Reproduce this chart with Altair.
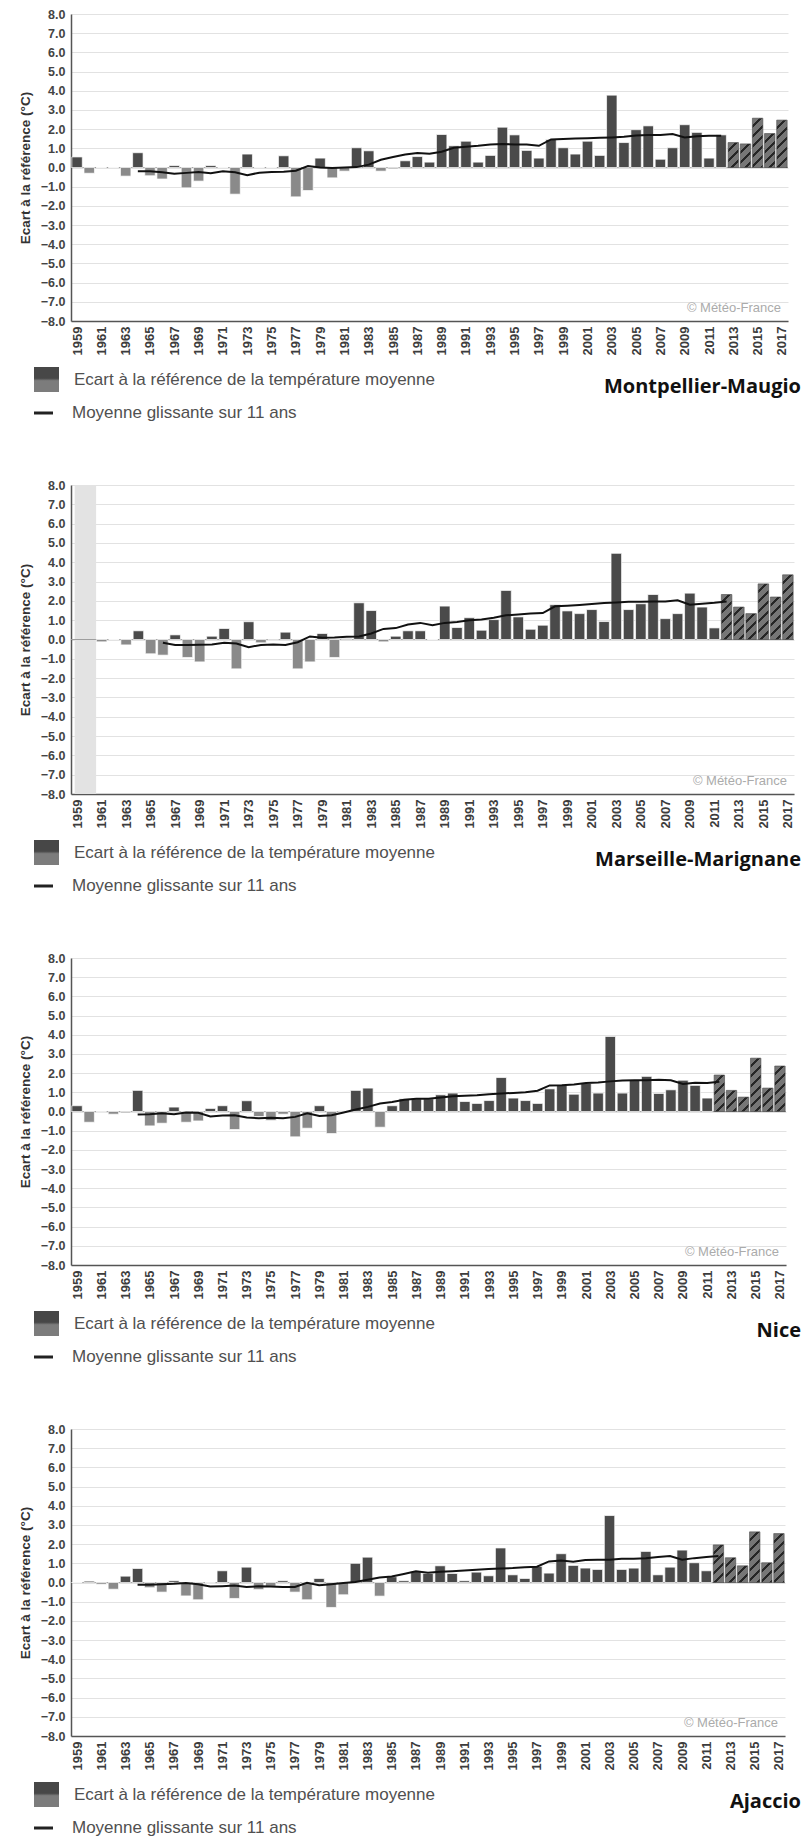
import altair as alt
import pandas as pd

YEARS = list(range(1959, 2018))
TICK_YEARS = list(range(1959, 2018, 2))
Y_TICKS = list(range(-8, 9))

MONTPELLIER = [0.55, -0.30, 0.00, 0.00, -0.45, 0.77, -0.43, -0.60, 0.10, -1.06,
               -0.71, 0.10, 0.00, -1.39, 0.70, 0.00, 0.00, 0.61, -1.53, -1.20,
               0.49, -0.54, -0.19, 1.03, 0.87, -0.19, -0.07, 0.35, 0.57, 0.28,
               1.72, 1.13, 1.37, 0.28, 0.63, 2.10, 1.70, 0.89, 0.49, 1.46,
               1.03, 0.70, 1.37, 0.63, 3.77, 1.30, 1.97, 2.17, 0.43, 1.03,
               2.23, 1.83, 0.49, 1.70, 1.30, 1.23, 2.57, 1.77, 2.47]
MONTPELLIER_MA = [-0.19, -0.20, -0.25, -0.33, -0.28, -0.23, -0.30, -0.20, -0.25, -0.40,
                  -0.27, -0.23, -0.22, -0.17, 0.08, 0.00, -0.02, 0.00, 0.02, 0.15,
                  0.40, 0.55, 0.68, 0.75, 0.72, 0.82, 1.03, 1.08, 1.13, 1.20,
                  1.23, 1.20, 1.20, 1.13, 1.46, 1.48, 1.51, 1.53, 1.55, 1.57,
                  1.60, 1.67, 1.69, 1.70, 1.74, 1.57, 1.63, 1.65, 1.65]

MARSEILLE = [None, None, -0.12, 0.00, -0.28, 0.45, -0.74, -0.81, 0.24, -0.93,
             -1.16, 0.17, 0.57, -1.52, 0.92, -0.17, -0.05, 0.38, -1.52, -1.16,
             0.31, -0.93, 0.05, 1.90, 1.50, -0.12, 0.17, 0.45, 0.45, 0.00,
             1.73, 0.62, 1.13, 0.48, 1.03, 2.54, 1.17, 0.53, 0.74, 1.80,
             1.48, 1.34, 1.55, 0.93, 4.46, 1.55, 1.85, 2.33, 1.08, 1.34,
             2.40, 1.68, 0.60, 2.33, 1.68, 1.34, 2.88, 2.20, 3.35]
MARSEILLE_MA = [-0.17, -0.29, -0.28, -0.27, -0.26, -0.17, -0.21, -0.40, -0.28, -0.26,
                -0.28, -0.14, 0.16, 0.09, 0.10, 0.14, 0.16, 0.31, 0.55, 0.59,
                0.78, 0.86, 0.74, 0.86, 0.91, 1.00, 1.03, 1.13, 1.25, 1.29,
                1.34, 1.37, 1.72, 1.75, 1.79, 1.84, 1.89, 1.92, 1.96, 1.96,
                1.97, 1.97, 2.03, 1.80, 1.85, 1.90, 1.97]

NICE = [0.30, -0.56, -0.02, -0.14, -0.07, 1.10, -0.75, -0.61, 0.23, -0.56,
        -0.49, 0.16, 0.30, -0.94, 0.56, -0.26, -0.47, -0.14, -1.32, -0.87,
        0.30, -1.15, 0.03, 1.10, 1.22, -0.82, 0.30, 0.66, 0.66, 0.66,
        0.87, 0.96, 0.52, 0.42, 0.57, 1.77, 0.70, 0.57, 0.42, 1.18,
        1.36, 0.90, 1.46, 0.96, 3.91, 0.96, 1.63, 1.83, 0.94, 1.13,
        1.63, 1.36, 0.70, 1.90, 1.10, 0.75, 2.78, 1.22, 2.37]
NICE_MA = [-0.16, -0.14, -0.09, -0.14, -0.05, -0.07, -0.26, -0.21, -0.19, -0.31,
           -0.35, -0.33, -0.35, -0.28, -0.09, -0.23, -0.19, -0.05, 0.10, 0.24,
           0.42, 0.49, 0.61, 0.66, 0.66, 0.73, 0.80, 0.82, 0.85, 0.90,
           0.94, 0.97, 1.00, 1.08, 1.36, 1.37, 1.41, 1.48, 1.51, 1.57,
           1.62, 1.63, 1.63, 1.65, 1.63, 1.43, 1.50, 1.48, 1.55]

AJACCIO = [0.00, 0.07, -0.09, -0.35, 0.33, 0.73, -0.27, -0.50, 0.09, -0.70,
           -0.90, -0.02, 0.61, -0.83, 0.80, -0.37, -0.20, 0.09, -0.50, -0.90,
           0.21, -1.30, -0.64, 1.00, 1.32, -0.71, 0.30, 0.09, 0.57, 0.47,
           0.87, 0.47, 0.09, 0.54, 0.35, 1.80, 0.40, 0.21, 0.84, 0.49,
           1.50, 0.89, 0.75, 0.68, 3.49, 0.68, 0.75, 1.62, 0.40, 0.80,
           1.69, 1.03, 0.61, 1.96, 1.29, 0.87, 2.64, 1.03, 2.55]
AJACCIO_MA = [-0.12, -0.12, -0.09, -0.07, -0.03, -0.09, -0.21, -0.19, -0.16, -0.23,
              -0.20, -0.21, -0.23, -0.23, -0.02, -0.14, -0.09, -0.03, 0.03, 0.14,
              0.26, 0.31, 0.44, 0.58, 0.51, 0.56, 0.59, 0.63, 0.66, 0.70,
              0.73, 0.75, 0.79, 0.82, 1.10, 1.14, 1.08, 1.17, 1.19, 1.19,
              1.24, 1.24, 1.26, 1.33, 1.38, 1.19, 1.27, 1.33, 1.38]

STATIONS = [
    ("Montpellier-Maugio", MONTPELLIER, 1964, MONTPELLIER_MA, 2013, 717, 307, None),
    ("Marseille-Marignane", MARSEILLE, 1966, MARSEILLE_MA, 2012, 723, 309, (1958.8, 1960.55)),
    ("Nice", NICE, 1964, NICE_MA, 2012, 715, 307, None),
    ("Ajaccio", AJACCIO, 1964, AJACCIO_MA, 2012, 714, 307, None),
]

LEGEND_BAR = "Ecart à la référence de la température moyenne"
LEGEND_LINE = "Moyenne glissante sur 11 ans"
COPYRIGHT = "© Météo-France"
Y_TITLE = "Ecart à la référence (°C)"

POS = "#4a4a4a"
NEG = "#8a8a8a"
HATCH_BASE = "#767676"
HATCH_LINE = "#262626"
BAR_HALF = 0.43
HATCH_SPACING = 10.0
HATCH_FRAC = 0.3
FONT = "Liberation Sans"
X_DOMAIN = [1958.5, 2017.5]
Y_DOMAIN = [-8, 8]


def hatch_fill(v, W, H):
    bw = 2 * BAR_HALF * W / 59.0
    h = max(abs(v) * H / 16.0, 0.5)
    r = h / bw
    s = (1 + r) / (1 + r * r)
    p = HATCH_SPACING / (bw + h)
    stops = []
    t = 0.0
    while t < 1.0 - 1e-9:
        a = min(t + p * (1 - HATCH_FRAC), 1.0)
        b = min(t + p, 1.0)
        stops.append({"offset": round(t, 4), "color": HATCH_BASE})
        stops.append({"offset": round(a, 4), "color": HATCH_BASE})
        if a < 1.0:
            stops.append({"offset": round(a, 4), "color": HATCH_LINE})
            stops.append({"offset": round(b, 4), "color": HATCH_LINE})
        t = b
    return {"gradient": "linear", "x1": 0, "y1": 0,
            "x2": round(s, 5), "y2": round(s * r, 5), "stops": stops}


def make_panel(name, values, ma_start, ma, hatch_from, W, H, band):
    xs = alt.Scale(domain=X_DOMAIN, nice=False, zero=False)
    ys = alt.Scale(domain=Y_DOMAIN, nice=False, zero=False)
    df = pd.DataFrame({"year": YEARS, "v": values}).dropna()
    df = df.assign(x0=df.year - BAR_HALF, x1=df.year + BAR_HALF, base=0.0)
    solid = df[df.year < hatch_from]
    hatched = df[df.year >= hatch_from]

    x_axis = alt.Axis(values=TICK_YEARS, format="d", labelAngle=270, title=None,
                      grid=False, ticks=False, domainColor="#555555", domainWidth=1.5,
                      labelFont=FONT, labelFontSize=13, labelFontWeight="bold",
                      labelColor="#3c3c3c", labelPadding=5, labelFlush=False,
                      labelOverlap=False)
    y_axis = alt.Axis(values=Y_TICKS, format=".1f", title=Y_TITLE, grid=True,
                      gridColor="#e2e2e2", gridWidth=1, ticks=False,
                      domainColor="#555555", domainWidth=1.5,
                      labelFont=FONT, labelFontSize=12.5, labelFontWeight="bold",
                      labelColor="#444444", labelPadding=6, labelFlush=False,
                      labelOverlap=False, titleFont=FONT, titleFontSize=13.5,
                      titleFontWeight="bold", titleColor="#333333", titlePadding=8)

    def X(f):
        return alt.X(f, scale=xs, axis=x_axis)

    def Y(f):
        return alt.Y(f, scale=ys, axis=y_axis)

    layers = []
    if band is not None:
        bdf = pd.DataFrame({"a": [band[0]], "b": [band[1]], "lo": [-8.0], "hi": [8.0]})
        layers.append(alt.Chart(bdf).mark_rect(fill="#e3e3e3").encode(
            x=X("a:Q"), x2="b:Q", y=Y("lo:Q"), y2="hi:Q"))

    layers.append(alt.Chart(pd.DataFrame({"z": [0.0]})).mark_rule(
        color="#9e9e9e", strokeWidth=1).encode(y=Y("z:Q")))

    layers.append(alt.Chart(solid).mark_rect(stroke="#ffffff", strokeWidth=0.7).encode(
        x=X("x0:Q"), x2="x1:Q", y=Y("v:Q"), y2="base:Q",
        fill=alt.condition("datum.v >= 0", alt.value(POS), alt.value(NEG))))

    for _, row in hatched.iterrows():
        one = pd.DataFrame([row])
        layers.append(alt.Chart(one).mark_rect(
            fill=hatch_fill(row.v, W, H), stroke="#4a4a4a", strokeWidth=0.6).encode(
            x=X("x0:Q"), x2="x1:Q", y=Y("v:Q"), y2="base:Q"))

    mdf = pd.DataFrame({"year": list(range(ma_start, ma_start + len(ma))), "ma": ma})
    layers.append(alt.Chart(mdf).mark_line(color="#111111", strokeWidth=2).encode(
        x=X("year:Q"), y=Y("ma:Q")))

    one = pd.DataFrame({"k": [0]})
    layers.append(alt.Chart(one).mark_text(
        text=COPYRIGHT, align="right", baseline="middle", font=FONT,
        fontSize=13, color="#ababab").encode(x=alt.value(W - 7), y=alt.value(H - 13)))

    box_grad = {"gradient": "linear", "x1": 0, "y1": 0, "x2": 0, "y2": 1,
                "stops": [{"offset": 0, "color": "#474747"},
                          {"offset": 0.45, "color": "#474747"},
                          {"offset": 0.55, "color": "#7c7c7c"},
                          {"offset": 1, "color": "#7c7c7c"}]}
    layers.append(alt.Chart(one).mark_rect(fill=box_grad).encode(
        x=alt.value(-37), x2=alt.value(-12), y=alt.value(H + 46), y2=alt.value(H + 71)))
    layers.append(alt.Chart(one).mark_text(
        text=LEGEND_BAR, align="left", baseline="middle", font=FONT,
        fontSize=17, color="#505050").encode(x=alt.value(3), y=alt.value(H + 59)))
    layers.append(alt.Chart(one).mark_rule(color="#222222", strokeWidth=3).encode(
        x=alt.value(-37), x2=alt.value(-18), y=alt.value(H + 92)))
    layers.append(alt.Chart(one).mark_text(
        text=LEGEND_LINE, align="left", baseline="middle", font=FONT,
        fontSize=17, color="#505050").encode(x=alt.value(1), y=alt.value(H + 92)))
    layers.append(alt.Chart(one).mark_text(
        text=name, align="right", baseline="middle", font="Open Sans",
        fontSize=20, fontWeight="bold", color="#111111").encode(
        x=alt.value(730), y=alt.value(H + 66)))

    return alt.layer(*layers).properties(width=W, height=H)


panels = [make_panel(*s) for s in STATIONS]

chart = alt.vconcat(*panels, spacing=164, bounds="flush").properties(
    padding={"left": 10, "top": 0, "right": 0, "bottom": 0}
).configure(font=FONT).configure_view(strokeWidth=0)

chart.save("out.html", embed_options={"renderer": "svg", "actions": False})
